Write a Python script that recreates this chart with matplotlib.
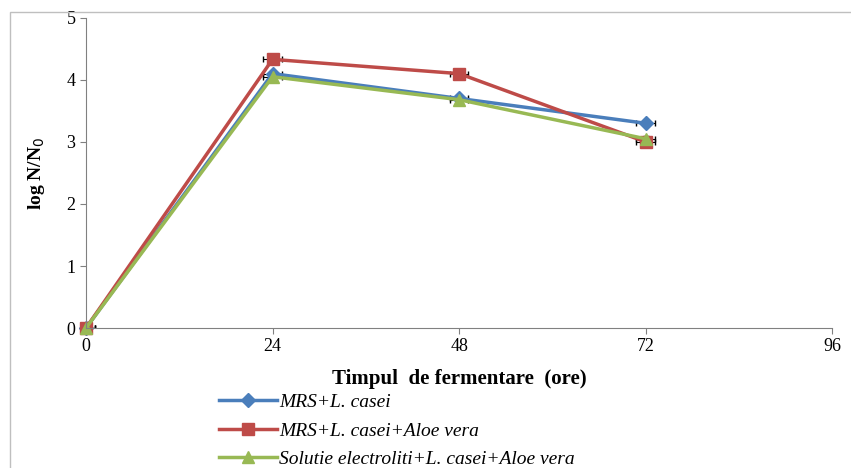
import matplotlib
matplotlib.use("Agg")
import matplotlib.pyplot as plt
from matplotlib.patches import Rectangle

plt.rcParams['font.family'] = ['Liberation Serif', 'DejaVu Serif']

hours = [0, 24, 48, 72]
mrs = [0, 4.1, 3.7, 3.3]
mrs_aloe = [0, 4.33, 4.1, 3.0]
sol_aloe = [0, 4.05, 3.68, 3.05]
labels = ["MRS+L. casei", "MRS+L. casei+Aloe vera", "Solutie electroliti+L. casei+Aloe vera"]

fig = plt.figure(figsize=(8.51, 4.68), dpi=100)
fig.patches.append(Rectangle((0.012, -0.01), 1.0, 0.985, transform=fig.transFigure,
                             fill=False, edgecolor='#bfbfbf', lw=1))
ax = fig.add_axes([0.101, 0.299, 0.877, 0.663])
ax.plot(hours, mrs, color='#4a7ebb', marker='D', ms=7, lw=2.5, label=labels[0], clip_on=False)
ax.plot(hours, mrs_aloe, color='#be4b48', marker='s', ms=9, lw=2.5, label=labels[1], clip_on=False)
ax.plot(hours, sol_aloe, color='#98b954', marker='^', ms=9, lw=2.5, label=labels[2], clip_on=False)
for s in (mrs, mrs_aloe, sol_aloe):
    ax.errorbar(hours, s, yerr=0.05, xerr=1.2, fmt='none', ecolor='black', lw=0.8, capsize=2, zorder=1)

ax.set_xlim(0, 96)
ax.set_ylim(0, 5)
ax.set_xticks([0, 24, 48, 72, 96])
ax.set_yticks(range(6))
for s in ('top', 'right'):
    ax.spines[s].set_visible(False)
for s in ('left', 'bottom'):
    ax.spines[s].set_color('#808080')
ax.tick_params(colors='#808080', labelcolor='black', labelsize=13, direction='out', length=4)
ax.set_xlabel("Timpul  de fermentare  (ore)", fontsize=15, fontweight='bold', labelpad=10)
ax.set_ylabel("log N/N$_0$", fontsize=14, fontweight='bold', labelpad=14)
leg = ax.legend(loc='upper left', bbox_to_anchor=(0.165, -0.18), frameon=False,
                prop={'style': 'italic', 'size': 14}, handlelength=3.0, labelspacing=0.55,
                borderpad=0, handletextpad=0.1)
plt.savefig("out.png", dpi=100)
